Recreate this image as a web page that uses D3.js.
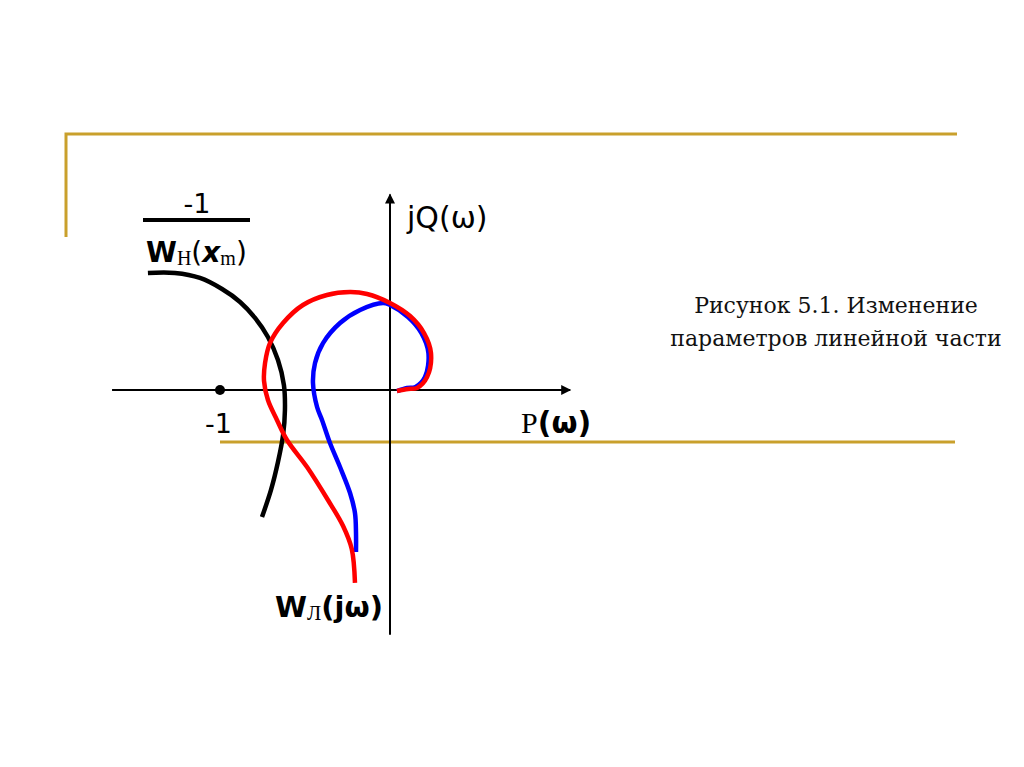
<!DOCTYPE html>
<html lang="ru">
<head>
<meta charset="utf-8">
<script src="https://d3js.org/d3.v7.min.js"></script>
<style type="text/css">
body {
  margin: 0;
  background: #fff;
}
.axis {
  stroke: #000;
  stroke-width: 2;
}
.frame {
  stroke: #c9a02c;
  stroke-width: 3;
  fill: none;
}
.lbl {
  font-family: "DejaVu Sans", sans-serif;
  fill: #000;
}
.caption {
  font-family: "DejaVu Serif", serif;
  font-size: 22px;
  fill: #111;
}
</style>
</head>
<body>
<script type="text/javascript">

// curves in (P, Q) units
var nonlinear = [[-1.424,0.688],[-1.265,0.688],[-1.118,0.659],[-0.988,0.594],[-0.882,0.518],[-0.794,0.424],
  [-0.718,0.312],[-0.659,0.176],[-0.624,0.029],[-0.618,-0.118],[-0.629,-0.265],[-0.659,-0.424],
  [-0.7,-0.588],[-0.753,-0.747]];

var linearRed = [[0.041,-0.006],[0.106,0.006],[0.159,0.012],[0.218,0.076],[0.241,0.218],[0.2,0.335],
  [0.118,0.435],[0,0.512],[-0.135,0.565],[-0.235,0.576],[-0.371,0.559],[-0.512,0.5],[-0.629,0.394],
  [-0.706,0.276],[-0.735,0.159],[-0.741,0.053],[-0.718,-0.059],[-0.665,-0.176],[-0.606,-0.294],
  [-0.488,-0.453],[-0.365,-0.647],[-0.276,-0.8],[-0.225,-0.935],[-0.206,-1.135]];

var linearBlue = [[0.041,-0.006],[0.1,0.012],[0.15,0.018],[0.206,0.076],[0.226,0.218],[0.185,0.335],
  [0.106,0.429],[0,0.5],[-0.041,0.512],[-0.176,0.471],[-0.294,0.394],[-0.394,0.276],[-0.441,0.159],
  [-0.453,0.041],[-0.429,-0.1],[-0.4,-0.176],[-0.353,-0.312],[-0.294,-0.453],[-0.235,-0.606],
  [-0.206,-0.724],[-0.2,-0.841],[-0.2,-0.953]];

var criticalPoint = [-1, 0];

var width = 1024, height = 767;

var x = d3.scaleLinear().domain([-1, 0]).range([220, 390]);
var y = d3.scaleLinear().domain([0, 1]).range([390, 220]);

var svg = d3.select("body").append("svg")
  .attr("width", width)
  .attr("height", height);

svg.append("rect").attr("width", width).attr("height", height).attr("fill", "#fff");

// slide frame lines
svg.append("path").attr("class", "frame")
  .attr("d", "M66,237 L66,134 L957,134");
svg.append("path").attr("class", "frame")
  .attr("d", "M220,442 L955,442");

svg.append("defs").append("marker")
  .attr("id", "arrow")
  .attr("viewBox", "0 0 10 10")
  .attr("refX", 9).attr("refY", 5)
  .attr("markerWidth", 12).attr("markerHeight", 10)
  .attr("markerUnits", "userSpaceOnUse")
  .attr("orient", "auto")
  .append("path")
  .attr("d", "M0,0 L10,5 L0,10 z")
  .attr("fill", "#000");

// axes
svg.append("line").attr("class", "axis")
  .attr("x1", x(-1.635)).attr("y1", y(0))
  .attr("x2", x(1.06)).attr("y2", y(0))
  .attr("marker-end", "url(#arrow)");
svg.append("line").attr("class", "axis")
  .attr("x1", x(0)).attr("y1", y(-1.44))
  .attr("x2", x(0)).attr("y2", y(1.15))
  .attr("marker-end", "url(#arrow)");

var line = d3.line()
  .x(function(d) { return x(d[0]); })
  .y(function(d) { return y(d[1]); })
  .curve(d3.curveCatmullRom);

svg.append("path").datum(nonlinear)
  .attr("d", line).attr("fill", "none")
  .attr("stroke", "#000").attr("stroke-width", 4.5);

svg.append("path").datum(linearBlue)
  .attr("d", line).attr("fill", "none")
  .attr("stroke", "#0000ff").attr("stroke-width", 4.5);

svg.append("path").datum(linearRed)
  .attr("d", line).attr("fill", "none")
  .attr("stroke", "#ff0000").attr("stroke-width", 4.5);

svg.append("circle")
  .attr("cx", x(criticalPoint[0])).attr("cy", y(criticalPoint[1]))
  .attr("r", 5).attr("fill", "#000");

// labels
svg.append("text").attr("class", "lbl")
  .attr("x", 197).attr("y", 213)
  .attr("text-anchor", "middle")
  .style("font-size", "27px")
  .text("-1");

svg.append("line")
  .attr("x1", 143).attr("x2", 250)
  .attr("y1", 220).attr("y2", 220)
  .attr("stroke", "#000").attr("stroke-width", 4);

var wn = svg.append("text").attr("class", "lbl")
  .attr("x", 146).attr("y", 262)
  .style("font-size", "28px");
wn.append("tspan").style("font-weight", "bold").text("W");
wn.append("tspan").attr("dy", 3).style("font-size", "20px").style("font-family", "Liberation Serif").text("Н");
wn.append("tspan").attr("dy", -3).text("(");
wn.append("tspan").style("font-style", "italic").style("font-weight", "bold").text("x");
wn.append("tspan").attr("dy", 3).style("font-size", "20px").style("font-family", "Liberation Serif").text("m");
wn.append("tspan").attr("dy", -3).text(")");

svg.append("text").attr("class", "lbl")
  .attr("x", 407).attr("y", 228)
  .style("font-size", "30px")
  .text("jQ(ω)");

var pw = svg.append("text").attr("class", "lbl")
  .attr("x", 521).attr("y", 433)
  .style("font-size", "30px");
pw.append("tspan").style("font-family", "Liberation Serif").text("P");
pw.append("tspan").style("font-weight", "bold").text("(ω)");

svg.append("text").attr("class", "lbl")
  .attr("x", 205).attr("y", 433)
  .style("font-size", "27px")
  .text("-1");

var wl = svg.append("text").attr("class", "lbl")
  .attr("x", 275).attr("y", 617)
  .style("font-size", "29px")
  .style("font-weight", "bold");
wl.append("tspan").text("W");
wl.append("tspan").attr("dy", 3).style("font-size", "21px").style("font-weight", "normal").style("font-family", "Liberation Serif").text("Л");
wl.append("tspan").attr("dy", -3).text("(jω)");

svg.append("text").attr("class", "caption")
  .attr("x", 836).attr("y", 313)
  .attr("text-anchor", "middle")
  .text("Рисунок 5.1. Изменение");
svg.append("text").attr("class", "caption")
  .attr("x", 836).attr("y", 346)
  .attr("text-anchor", "middle")
  .text("параметров линейной части");

</script>
</body>
</html>
